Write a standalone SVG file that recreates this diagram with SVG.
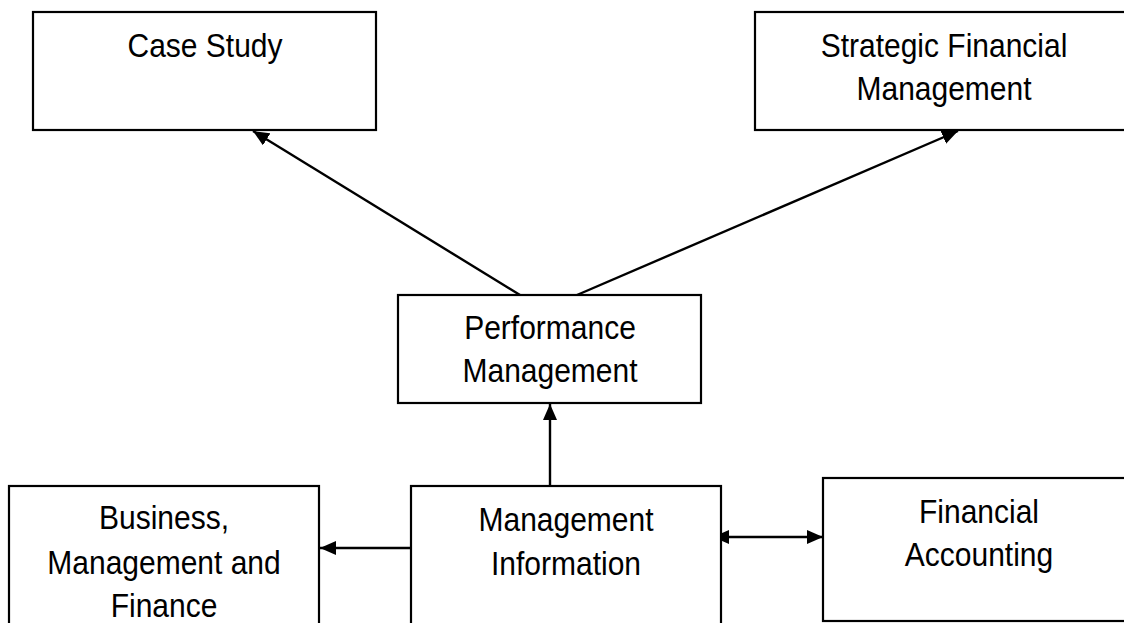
<svg xmlns="http://www.w3.org/2000/svg" width="1124" height="623" viewBox="0 0 1124 623">
<style>
.box{fill:#fff;stroke:#000;stroke-width:2.2}
.lbl{font-family:"Liberation Sans",Arial,sans-serif;font-size:30px;fill:#000;text-anchor:middle}
.con{stroke:#000;stroke-width:2.4;fill:none}
</style>
<defs>
<marker id="ah" viewBox="0 0 16 14" refX="16" refY="7" markerWidth="16" markerHeight="14" markerUnits="userSpaceOnUse" orient="auto-start-reverse">
<path d="M0,0 L16,7 L0,14 Z" fill="#000"/>
</marker>
</defs>
<rect width="1124" height="623" fill="#fff"/>
<g id="connectors">
<line class="con" x1="520" y1="295" x2="253" y2="131" marker-end="url(#ah)"/>
<line class="con" x1="577" y1="295" x2="958" y2="131" marker-end="url(#ah)"/>
<line class="con" x1="550" y1="486" x2="550" y2="404" marker-end="url(#ah)"/>
<line class="con" x1="411" y1="548" x2="320" y2="548" marker-end="url(#ah)"/>
<line class="con" x1="713" y1="537" x2="823" y2="537" marker-start="url(#ah)" marker-end="url(#ah)"/>
</g>
<g id="case-study">
<rect class="box" x="33" y="12" width="343" height="118"/>
<text class="lbl" transform="translate(205,57) scale(1,1.13)">Case Study</text>
</g>
<g id="strategic-financial-management">
<rect class="box" x="755" y="12" width="380" height="118"/>
<text class="lbl" transform="translate(944,57) scale(1,1.13)">Strategic Financial</text>
<text class="lbl" transform="translate(944,100) scale(1,1.13)">Management</text>
</g>
<g id="performance-management">
<rect class="box" x="398" y="295" width="303" height="108"/>
<text class="lbl" transform="translate(550,339) scale(1,1.13)">Performance</text>
<text class="lbl" transform="translate(550,382) scale(1,1.13)">Management</text>
</g>
<g id="management-information">
<rect class="box" x="411" y="486" width="310" height="150"/>
<text class="lbl" transform="translate(566,531) scale(1,1.13)">Management</text>
<text class="lbl" transform="translate(566,575) scale(1,1.13)">Information</text>
</g>
<g id="business-management-finance">
<rect class="box" x="9" y="486" width="310" height="150"/>
<text class="lbl" transform="translate(164,529) scale(1,1.13)">Business,</text>
<text class="lbl" transform="translate(164,574) scale(1,1.13)">Management and</text>
<text class="lbl" transform="translate(164,617) scale(1,1.13)">Finance</text>
</g>
<g id="financial-accounting">
<rect class="box" x="823" y="478" width="312" height="143"/>
<text class="lbl" transform="translate(979,523) scale(1,1.13)">Financial</text>
<text class="lbl" transform="translate(979,566) scale(1,1.13)">Accounting</text>
</g>
</svg>
